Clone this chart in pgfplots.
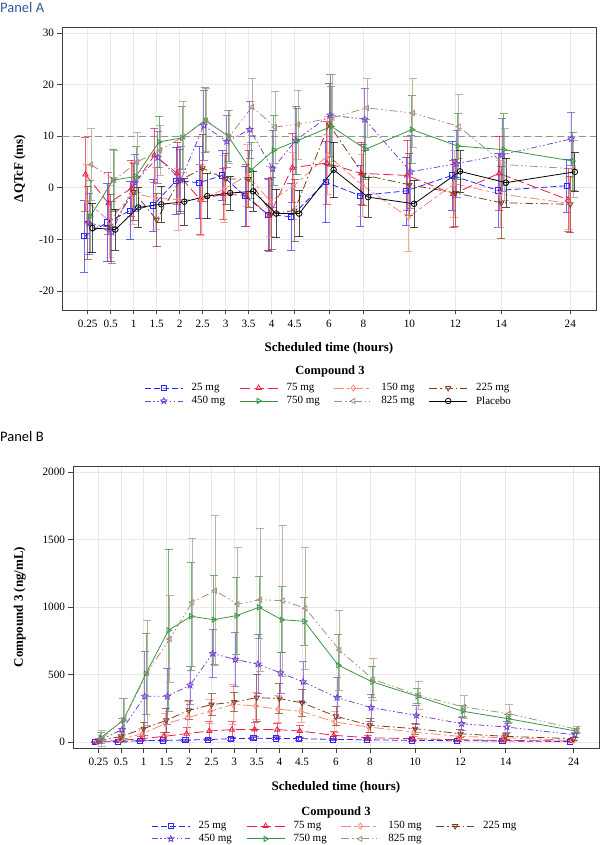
\documentclass[border=0pt]{standalone}
\usepackage{fontspec}
\setmainfont{Liberation Serif}
\newfontfamily\panelfont{Carlito}
\usepackage{pgfplots}
\usepackage{pgfplotstable}
\pgfplotsset{compat=1.18}
\usetikzlibrary{plotmarks}

\definecolor{cblue}{HTML}{2626FF}
\definecolor{cred}{HTML}{E6203F}
\definecolor{csalmon}{HTML}{F7887A}
\definecolor{cbrown}{HTML}{7E3D1F}
\definecolor{cpurple}{HTML}{7845D2}
\definecolor{cgreen}{HTML}{3A9646}
\definecolor{ctan}{HTML}{A5917D}
\definecolor{gridc}{HTML}{E9E9E9}
\definecolor{paneltitle}{HTML}{2E5C96}

\pgfdeclareplotmark{ostar}{%
  \pgfpathmoveto{\pgfpointpolar{90}{\pgfplotmarksize}}%
  \pgfpathlineto{\pgfpointpolar{126}{0.45\pgfplotmarksize}}%
  \pgfpathlineto{\pgfpointpolar{162}{\pgfplotmarksize}}%
  \pgfpathlineto{\pgfpointpolar{198}{0.45\pgfplotmarksize}}%
  \pgfpathlineto{\pgfpointpolar{234}{\pgfplotmarksize}}%
  \pgfpathlineto{\pgfpointpolar{270}{0.45\pgfplotmarksize}}%
  \pgfpathlineto{\pgfpointpolar{306}{\pgfplotmarksize}}%
  \pgfpathlineto{\pgfpointpolar{342}{0.45\pgfplotmarksize}}%
  \pgfpathlineto{\pgfpointpolar{18}{\pgfplotmarksize}}%
  \pgfpathlineto{\pgfpointpolar{54}{0.45\pgfplotmarksize}}%
  \pgfpathclose\pgfusepathqstroke}

\pgfplotstableread{
p    y25  e25  y75  e75  y150 e150 y225 e225 y450 e450 y750 e750 y825 e825 ypl  epl
0    -9.4 7.0  2.6  7.1  -2.6 7.2  -6.8 7.0  -7.0 6.0  -5.6 7.0  4.5  7.0  -7.8 4.8
1    -6.7 7.5  -3.0 6.0  -6.5 7.0  -7.7 6.5  -8.6 6.0  1.5  6.0  1.5  5.8  -8.1 4.0
2    -4.4 5.6  -0.1 5.5  -1.0 6.0  -0.8 5.5  1.0  5.5  2.2  5.8  5.0  5.8  -3.8 3.8
3    -3.4 5.0  6.3  5.3  -2.0 6.0  -6.2 5.2  5.9  5.0  8.9  5.0  7.3  4.8  -3.2 3.5
4    1.4  6.5  2.8  6.0  -2.3 6.0  1.4  6.0  1.5  6.5  9.7  6.1  9.9  6.9  -2.7 4.5
5    1.0  7.0  -2.3 6.8  -2.3 6.9  3.8  6.5  12.1 6.8  13.1 6.3  13.1 6.1  -1.6 4.4
6    2.4  4.8  -1.2 5.0  -0.2 6.5  1.7  5.0  9.0  5.0  10.1 4.9  9.9  5.1  -1.0 3.3
7    -1.6 5.8  -1.5 6.0  2.4  6.0  1.7  5.5  11.3 5.5  3.4  5.4  15.7 5.6  -0.7 3.8
8    -5.2 7.0  -5.4 7.0  -2.6 6.8  -5.0 7.0  3.7  7.5  7.3  6.8  11.8 7.0  -5.0 4.7
9    -5.6 6.5  3.9  6.7  0.3  6.5  -4.4 6.0  9.2  6.6  9.1  6.4  12.3 6.7  -5.0 4.5
10.5 1.1  7.9  4.8  8.0  6.3  7.5  12.3 7.9  14.1 8.0  11.9 7.8  13.6 8.4  3.5  5.4
12   -1.5 5.9  2.8  6.0  0.5  6.0  2.5  6.0  13.3 6.0  7.5  5.8  15.5 5.7  -1.8 3.9
14   -0.6 6.6  2.4  6.8  -5.7 6.6  0.6  6.0  3.1  7.0  11.3 6.6  14.5 6.7  -3.1 4.6
16   2.4  6.7  -1.2 6.5  0.8  6.5  -1.0 6.5  4.7  6.5  8.1  6.4  11.9 6.2  3.2  4.0
18   -0.5 7.1  2.8  7.2  -1.2 6.5  -2.9 7.0  6.4  7.0  7.4  7.0  4.5  7.0  1.0  4.7
21   0.4  5.1  -2.3 6.1  -3.0 5.0  -3.2 5.5  9.5  5.2  5.2  5.6  3.7  5.5  3.1  3.7
}\dataA

\pgfplotstableread{
p    y25 e25 y75 e75 y150 e150 y225 e225 y450 e450 y750 e750 y825 e825
0    0   2   1   3   3    5    7    10   12   15   32   40   25   60
1    4   4   12  10  17   15   42   40   92   80   161  160  175  150
2    10  6   25  15  62   40   99   50   339  330  507  300  512  390
3    12  6   42  30  136  80   161  90   339  210  827  600  763  320
4    15  8   62  50  181  120  235  70   421  140  931  400  1035 475
5    18  8   82  70  228  90   277  80   656  180  906  330  1121 555
6    25  10  92  60  280  150  297  70   611  200  936  285  1022 420
7    28  10  94  50  267  100  329  175  577  220  998  230  1054 530
8    27  10  92  50  243  100  322  110  512  150  906  245  1047 560
9    25  10  82  45  228  80   290  100  446  150  894  175  990  455
10.5 20  8   50  30  149  80   191  70   329  150  569  230  681  295
12   17  7   32  20  111  40   124  50   255  100  446  115  463  155
14   12  5   25  15  74   30   99   40   198  70   339  55   347  105
16   10  5   17  10  42   20   62   30   136  50   228  40   260  82
18   8   4   12  8   32   15   42   25   111  40   173  35   210  67
21   4   2   7   5   12   8    25   12   54   20   82   20   94   25
}\dataB

\pgfplotsset{
  base/.style={
    scale only axis,
    xmin=-1.12, xmax=22.12,
    xtick={0,1,2,3,4,5,6,7,8,9,10.5,12,14,16,18,21},
    xticklabels={0.25,0.5,1,1.5,2,2.5,3,3.5,4,4.5,6,8,10,12,14,24},
    grid=major, major grid style={gridc, line width=0.7pt},
    tick align=outside, tick pos=left, major tick length=4.5pt,
    every tick/.style={black!75, line width=0.7pt},
    axis line style={black!75, line width=0.9pt},
    tick label style={font=\rmfamily\fontsize{11.2}{13}\selectfont},
    xticklabel style={yshift=-2pt},
    label style={font=\rmfamily\bfseries\fontsize{13}{15}\selectfont},
    /pgf/number format/assume math mode=true,
    /pgf/number format/1000 sep={},
    legend columns=4,
    legend cell align=left,
    legend style={draw=none, fill=none, font=\rmfamily\fontsize{11}{12}\selectfont,
      anchor=north, row sep=1pt,
      /tikz/every odd column/.append style={column sep=7pt},
      /tikz/every even column/.append style={column sep=10pt},
      nodes={inner sep=1.5pt}},
    legend image code/.code={\draw[mark repeat=2,mark phase=2,##1] plot coordinates {(0pt,0pt) (19pt,0pt) (38pt,0pt)};},
  },
  eb/.style={line width=0.8pt,
    error bars/.cd, y dir=both, y explicit,
    error bar style={solid, line width=0.75pt, draw opacity=0.7},
    error mark options={rotate=90, mark size=4pt, solid, line width=0.75pt, draw opacity=0.7}},
  s25/.style={cblue, dash pattern=on 6pt off 3pt, mark=square, mark size=2.6pt, mark options={solid}, eb},
  s75/.style={cred, dash pattern=on 10pt off 4pt, mark=triangle, mark size=3pt, mark options={solid}, eb},
  s150/.style={csalmon, dash pattern=on 10pt off 3pt on 3pt off 3pt, mark=diamond, mark size=3pt, mark options={solid}, eb},
  s225/.style={cbrown, dash pattern=on 8pt off 3pt on 1.5pt off 3pt, mark=triangle, mark size=3pt, mark options={solid, rotate=180}, eb},
  s450/.style={cpurple, dash pattern=on 6pt off 2.5pt on 1.5pt off 2.5pt on 1.5pt off 2.5pt, mark=ostar, mark size=3.3pt, mark options={solid}, eb},
  s750/.style={cgreen, solid, mark=triangle, mark size=3pt, mark options={solid, rotate=-90}, eb},
  s825/.style={ctan, dash pattern=on 8pt off 3pt on 1.5pt off 2.5pt on 1.5pt off 3pt, mark=triangle, mark size=3pt, mark options={solid, rotate=90}, eb},
  spl/.style={black, solid, mark=o, mark size=2.8pt, mark options={solid}, eb},
}

\begin{document}
\begin{tikzpicture}
\useasboundingbox (0pt,0pt) rectangle (600pt,845pt);

\node[anchor=west, inner sep=0pt, font=\panelfont\fontsize{14.5}{16}\selectfont, text=paneltitle] at (0pt,837pt) {Panel A};
\node[anchor=west, inner sep=0pt, font=\panelfont\fontsize{14.5}{16}\selectfont, text=black] at (0pt,408pt) {Panel B};

% ---------------- Panel A
\begin{axis}[base,
  at={(62pt,535pt)}, anchor=south west,
  width=534pt, height=283pt,
  ymin=-23.7, ymax=31.2,
  ytick={-20,-10,0,10,20,30},
  xlabel={Scheduled time (hours)},
  ylabel={ΔQTcF (ms)},
  xlabel style={at={(axis description cs:0.5,-0.134)}, anchor=center},
  ylabel style={at={(axis description cs:-0.079,0.5)}, anchor=center},
  legend style={at={(0.5,-0.247)}},
]
\addplot[forget plot, draw=gray!85, line width=0.9pt, dash pattern=on 7pt off 4pt] coordinates {(-1.12,10) (22.12,10)};
\addplot[s25]  table[x expr=\thisrow{p}-0.15, y=y25,  y error=e25]  {\dataA};
\addlegendentry{\makebox[36pt][l]{25 mg}}
\addplot[s75]  table[x expr=\thisrow{p}-0.10, y=y75,  y error=e75]  {\dataA};
\addlegendentry{\makebox[36pt][l]{75 mg}}
\addplot[s150] table[x expr=\thisrow{p}-0.05, y=y150, y error=e150] {\dataA};
\addlegendentry{\makebox[36pt][l]{150 mg}}
\addplot[s225] table[x expr=\thisrow{p},      y=y225, y error=e225] {\dataA};
\addlegendentry{\makebox[36pt][l]{225 mg}}
\addplot[s450] table[x expr=\thisrow{p}+0.05, y=y450, y error=e450] {\dataA};
\addlegendentry{\makebox[36pt][l]{450 mg}}
\addplot[s750] table[x expr=\thisrow{p}+0.10, y=y750, y error=e750] {\dataA};
\addlegendentry{\makebox[36pt][l]{750 mg}}
\addplot[s825] table[x expr=\thisrow{p}+0.15, y=y825, y error=e825] {\dataA};
\addlegendentry{\makebox[36pt][l]{825 mg}}
\addplot[spl]  table[x expr=\thisrow{p}+0.20, y=ypl,  y error=epl]  {\dataA};
\addlegendentry{\makebox[36pt][l]{Placebo}}
\end{axis}
\node[font=\rmfamily\bfseries\fontsize{12.5}{14}\selectfont] at (330pt,473pt) {Compound 3};

% ---------------- Panel B
\begin{axis}[base,
  at={(73pt,97pt)}, anchor=south west,
  width=526pt, height=282pt,
  ymin=-44, ymax=2044,
  ytick={0,500,1000,1500,2000},
  xlabel={Scheduled time (hours)},
  ylabel={Compound 3 (ng/mL)},
  xlabel style={at={(axis description cs:0.5,-0.138)}, anchor=center},
  ylabel style={at={(axis description cs:-0.101,0.5)}, anchor=center},
  legend style={at={(0.5,-0.248)}},
]
\addplot[s25]  table[x expr=\thisrow{p}-0.15, y=y25,  y error=e25]  {\dataB};
\addlegendentry{\makebox[36pt][l]{25 mg}}
\addplot[s75]  table[x expr=\thisrow{p}-0.10, y=y75,  y error=e75]  {\dataB};
\addlegendentry{\makebox[36pt][l]{75 mg}}
\addplot[s150] table[x expr=\thisrow{p}-0.05, y=y150, y error=e150] {\dataB};
\addlegendentry{\makebox[36pt][l]{150 mg}}
\addplot[s225] table[x expr=\thisrow{p},      y=y225, y error=e225] {\dataB};
\addlegendentry{\makebox[36pt][l]{225 mg}}
\addplot[s450] table[x expr=\thisrow{p}+0.05, y=y450, y error=e450] {\dataB};
\addlegendentry{\makebox[36pt][l]{450 mg}}
\addplot[s750] table[x expr=\thisrow{p}+0.10, y=y750, y error=e750] {\dataB};
\addlegendentry{\makebox[36pt][l]{750 mg}}
\addplot[s825] table[x expr=\thisrow{p}+0.15, y=y825, y error=e825] {\dataB};
\addlegendentry{\makebox[36pt][l]{825 mg}}
\end{axis}
\node[font=\rmfamily\bfseries\fontsize{12.5}{14}\selectfont] at (336pt,33pt) {Compound 3};
\end{tikzpicture}
\end{document}
